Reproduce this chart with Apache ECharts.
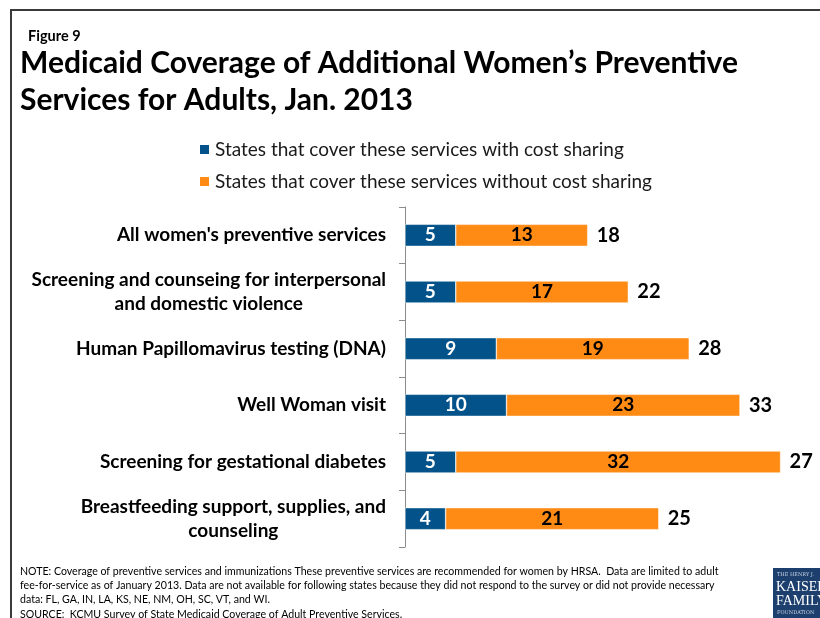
<!DOCTYPE html>
<html>
<head>
<meta charset="utf-8">
<script src="https://cdn.jsdelivr.net/npm/echarts@6/dist/echarts.min.js"></script>
<style>
  html, body { margin: 0; padding: 0; background: #fff; }
  #chart { width: 820px; height: 618px; }
</style>
</head>
<body>
<div id="chart"></div>
<script>
const categories = [
  "All women's preventive services",
  "Screening and counseing for interpersonal\nand domestic violence",
  "Human Papillomavirus testing (DNA)",
  "Well Woman visit",
  "Screening for gestational diabetes",
  "Breastfeeding support, supplies, and\ncounseling"
];
const withCostSharing = [5, 5, 9, 10, 5, 4];
const withoutCostSharing = [13, 17, 19, 23, 32, 21];
const totalLabels = ['18', '22', '28', '33', '27', '25'];
const seriesNames = [
  'States that cover these services with cost sharing',
  'States that cover these services without cost sharing'
];
const noteLines = [
  'NOTE: Coverage of preventive services and immunizations These preventive services are recommended for women by HRSA.  Data are limited to adult',
  'fee-for-service as of January 2013. Data are not available for following states because they did not respond to the survey or did not provide necessary',
  'data: FL, GA, IN, LA, KS, NE, NM, OH, SC, VT, and WI.',
  'SOURCE:  KCMU Survey of State Medicaid Coverage of Adult Preventive Services.'
];

const FONT = 'Lato';
const BLUE = '#03538A';
const ORANGE = '#FF8B15';

const chart = echarts.init(document.getElementById('chart'), null, { renderer: 'canvas' });
chart.setOption({
  animation: false,
  backgroundColor: '#fff',
  title: [
    { text: 'Figure 9', left: 23, top: 24,
      textStyle: { fontFamily: FONT, fontSize: 14.5, fontWeight: 'bold', color: '#000' } },
    { text: 'Medicaid Coverage of Additional Women\u2019s Preventive\nServices for Adults, Jan. 2013', left: 15, top: 40,
      textStyle: { fontFamily: FONT, fontSize: 30, fontWeight: 'bold', color: '#000', lineHeight: 37 } },
    { text: noteLines.join('\n'), left: 15, top: 559,
      textStyle: { fontFamily: FONT, fontSize: 10.6, fontWeight: 'normal', color: '#000', lineHeight: 14.4 } }
  ],
  legend: {
    data: seriesNames,
    orient: 'vertical',
    left: 193, top: 135,
    itemGap: 13, itemWidth: 11, itemHeight: 11,
    icon: 'rect',
    textStyle: { fontFamily: FONT, fontSize: 19, color: '#1a1a1a', lineHeight: 19 }
  },
  grid: { left: 405, top: 207, height: 340, right: 9 },
  xAxis: { type: 'value', min: 0, max: 40, show: false },
  yAxis: {
    type: 'category', data: categories, inverse: true,
    axisLine: { show: true, lineStyle: { color: '#8c8c8c', width: 1 } },
    axisTick: { show: true, alignWithLabel: false, length: 6, lineStyle: { color: '#8c8c8c', width: 1 } },
    axisLabel: {
      margin: 19,
      formatter: v => v.split('\n').map(s => '{c|' + s + '}').join('\n'),
      rich: { c: { align: 'center', fontFamily: FONT, fontWeight: 'bold', fontSize: 19, color: '#000', lineHeight: 24 } }
    }
  },
  series: [
    { name: seriesNames[0], type: 'bar', stack: 'a', data: withCostSharing, barWidth: 22,
      itemStyle: { color: BLUE, borderColor: '#fff', borderWidth: 0.5 },
      label: { show: true, position: 'inside', color: '#fff', fontFamily: FONT, fontWeight: 'bold', fontSize: 19 } },
    { name: seriesNames[1], type: 'bar', stack: 'a', data: withoutCostSharing, barWidth: 22,
      itemStyle: { color: ORANGE, borderColor: '#fff', borderWidth: 0.5 },
      label: { show: true, position: 'inside', color: '#000', fontFamily: FONT, fontWeight: 'bold', fontSize: 19 } },
    { name: 'total', type: 'bar', stack: 'a', data: withCostSharing.map(() => 0), barWidth: 22, silent: true,
      itemStyle: { color: 'rgba(0,0,0,0)' },
      label: { show: true, position: 'right', distance: 9, formatter: p => totalLabels[p.dataIndex],
        color: '#000', fontFamily: FONT, fontWeight: 'bold', fontSize: 20 } }
  ],
  graphic: [
    { type: 'rect', silent: true, z: -1,
      shape: { x: 11, y: 10, width: 900, height: 700 },
      style: { fill: null, stroke: '#3a3a3a', lineWidth: 2 } },
    { type: 'group', left: 773, top: 568, children: [
      { type: 'rect', shape: { x: 0, y: 0, width: 60, height: 52 }, style: { fill: '#1d3f6e' } },
      { type: 'text', x: 4, y: 4, style: { text: 'THE HENRY J.', fill: '#c8d3e3', font: '5px "DejaVu Serif"' } },
      { type: 'text', x: 3, y: 12, style: { text: 'KAISER', fill: '#fff', font: '14px "Liberation Serif"' } },
      { type: 'text', x: 3, y: 26, style: { text: 'FAMILY', fill: '#fff', font: '14px "Liberation Serif"' } },
      { type: 'text', x: 4, y: 42, style: { text: 'FOUNDATION', fill: '#c8d3e3', font: '5px "DejaVu Serif"' } }
    ] }
  ]
});
</script>
</body>
</html>
